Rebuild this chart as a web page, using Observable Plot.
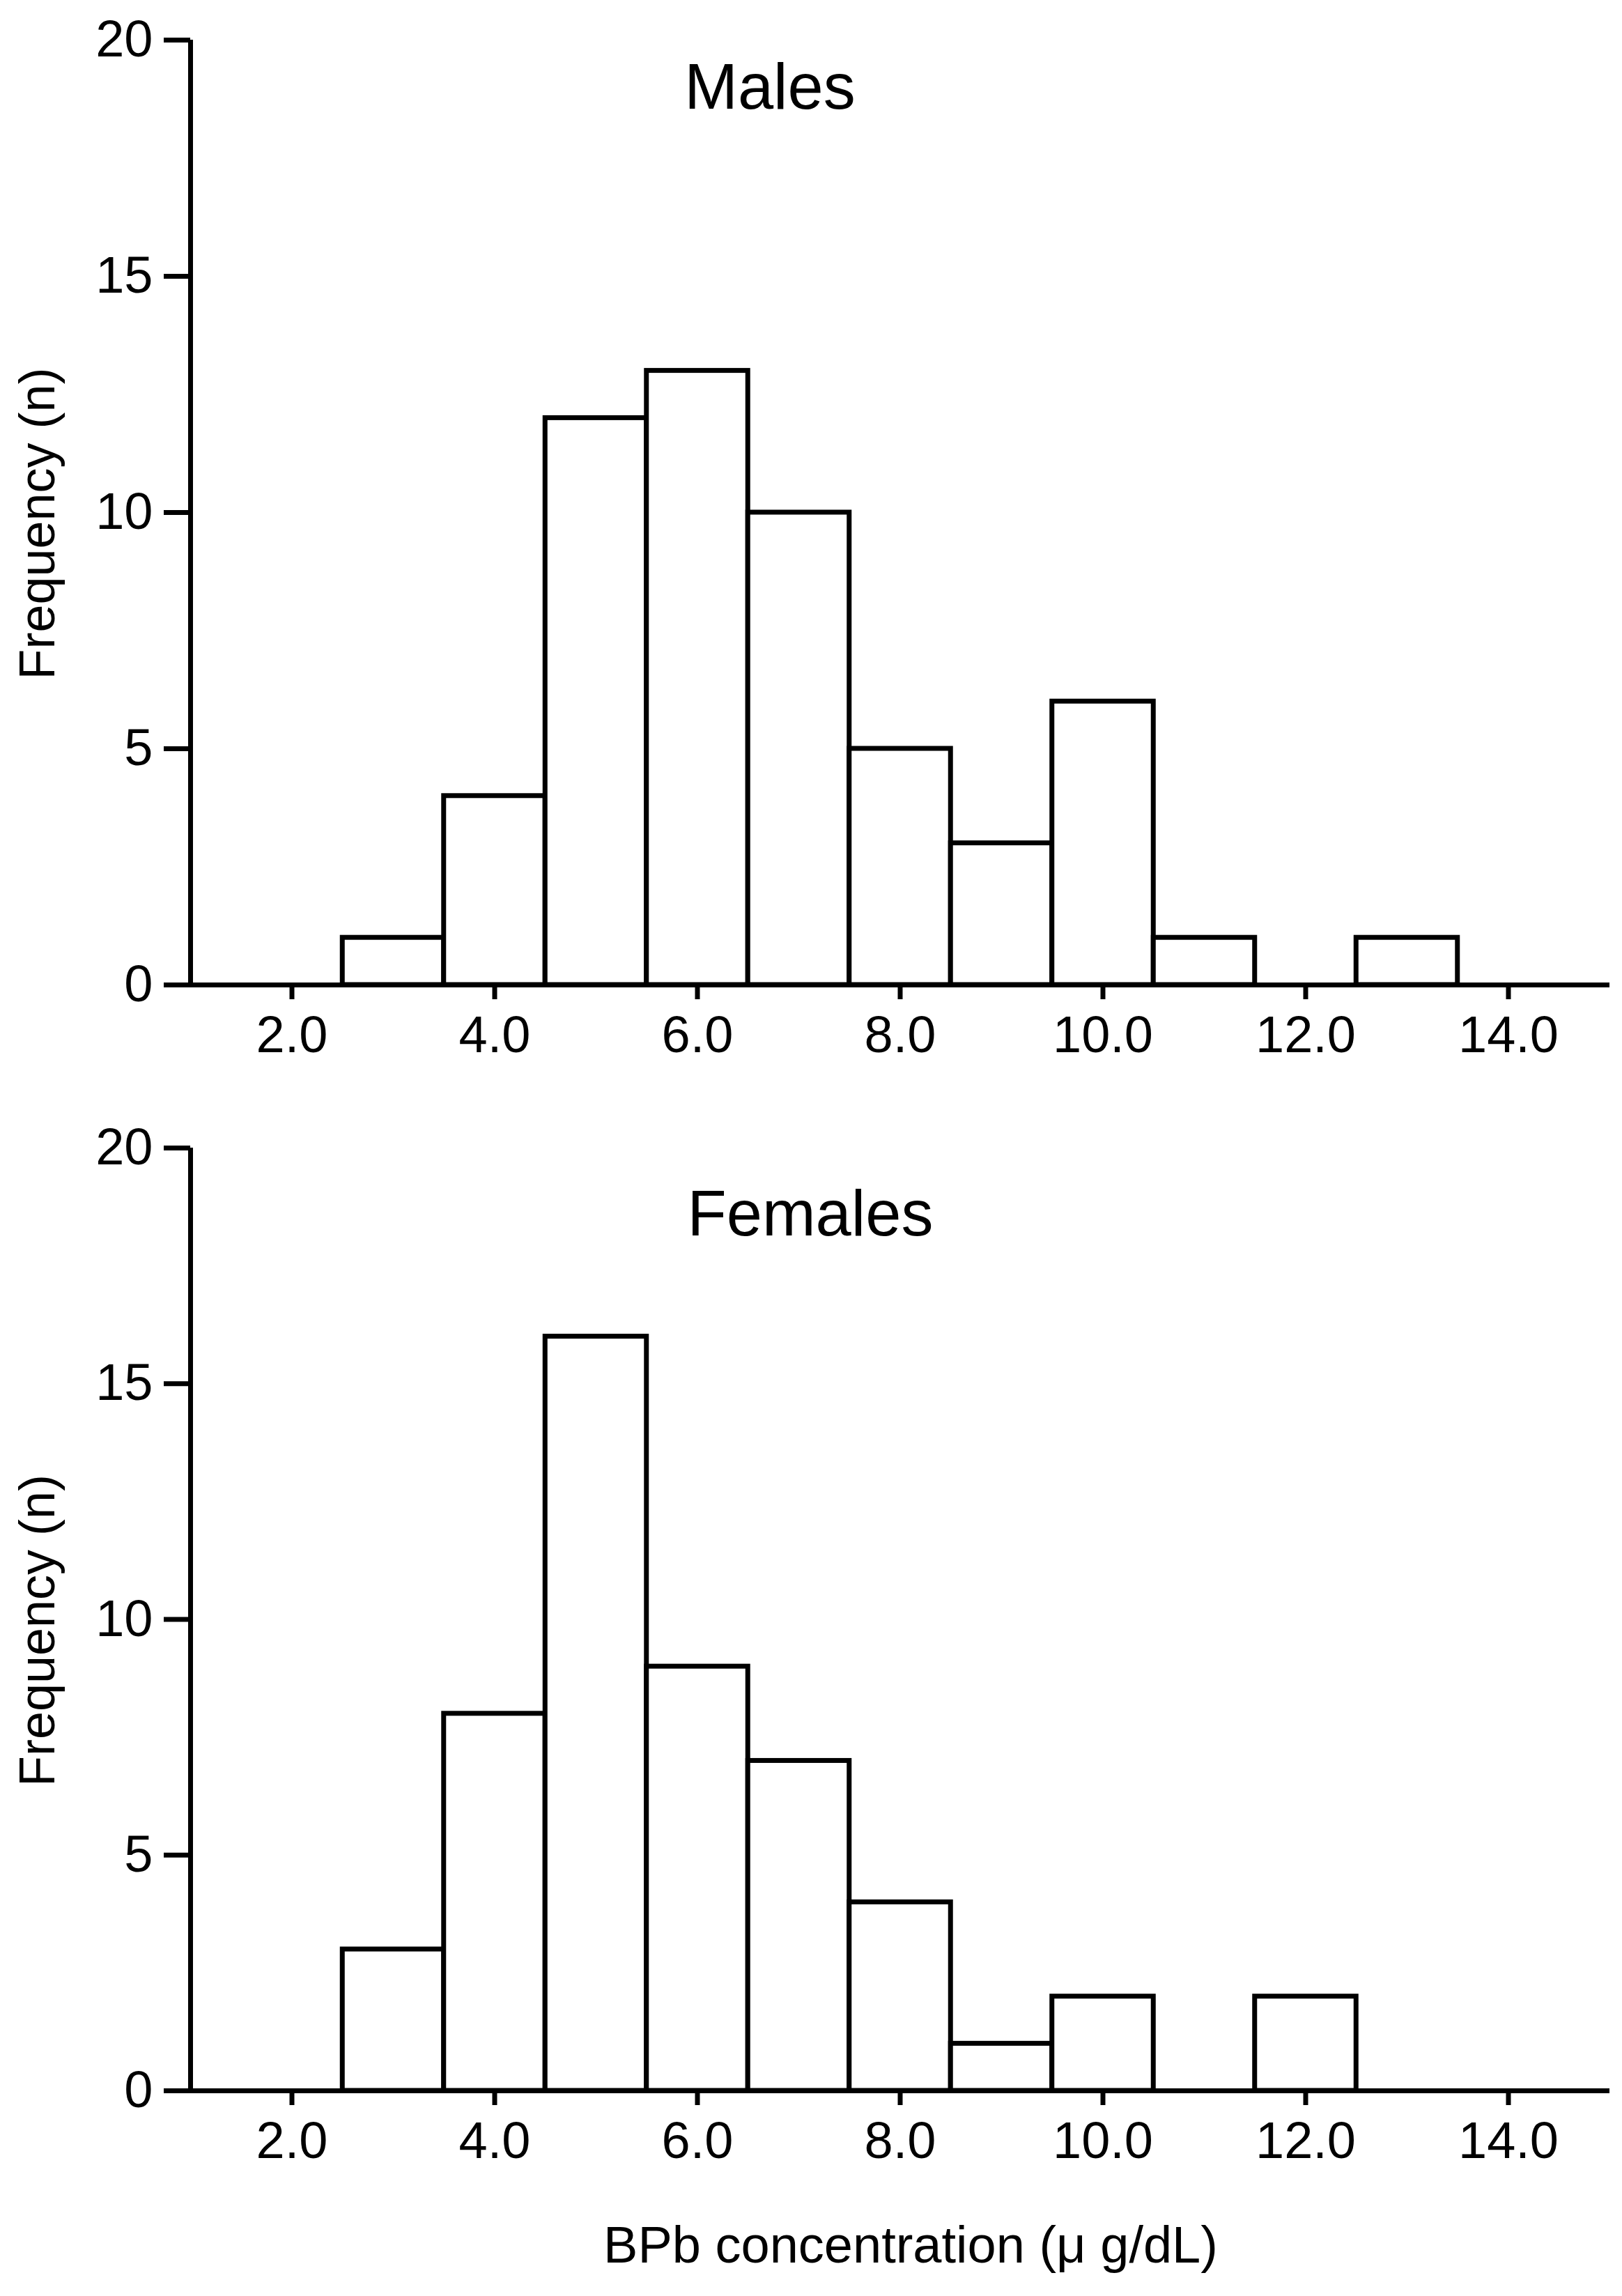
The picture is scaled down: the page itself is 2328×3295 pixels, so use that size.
<!DOCTYPE html>
<html>
<head>
<meta charset="utf-8">
<script src="https://cdn.jsdelivr.net/npm/d3@7"></script>
<script src="https://cdn.jsdelivr.net/npm/@observablehq/plot@0.6"></script>
<style>
  body { margin: 0; background: white; }
  #chart svg { display: block; }
</style>
</head>
<body>
<div id="chart"></div>
<script>
const binCenters = [3, 4, 5, 6, 7, 8, 9, 10, 11, 12, 13]
const males = [1, 4, 12, 13, 10, 5, 3, 6, 1, 0, 1]
const females = [3, 8, 16, 9, 7, 4, 1, 2, 0, 2, 0]

const xTicks = [2, 4, 6, 8, 10, 12, 14]
const yTicks = [0, 5, 10, 15, 20]

const yLabel = 'Frequency (n)'
const xLabel = 'BPb concentration (μ g/dL)'

const W = 2328
const lw = 7
const font = 'Liberation Sans, Arial, sans-serif'

function panel(counts, title, o) {
  let bins = binCenters.map((c, i) => ({ x1: c - 0.5, x2: c + 0.5, n: counts[i] }))
    .filter(d => d.n > 0)

  let marks = [
    Plot.rect(bins, { x1: 'x1', x2: 'x2', y1: 0, y2: 'n', fill: 'white', stroke: 'black', strokeWidth: lw }),
    Plot.ruleX([1], { stroke: 'black', strokeWidth: lw }),
    Plot.ruleY([0], { stroke: 'black', strokeWidth: lw }),
    Plot.axisY(yTicks, { tickSize: 38, tickPadding: 16, fontSize: 74, strokeWidth: lw, label: null, tickFormat: d3.format('d') }),
    Plot.axisX(xTicks, { tickSize: 21, tickPadding: 23, fontSize: 74, strokeWidth: lw, label: null, tickFormat: d3.format('.1f') }),
    Plot.text([title], { frameAnchor: 'top', textAnchor: 'middle', lineAnchor: 'middle', dx: o.titleDx, dy: o.titleDy, fontSize: 92, fill: 'black' }),
    Plot.text([yLabel], { frameAnchor: 'left', textAnchor: 'middle', lineAnchor: 'middle', rotate: -90, dx: -219, dy: 16, fontSize: 72, fill: 'black' }),
  ]
  if (o.xTitle) {
    marks.push(Plot.text([xLabel], { frameAnchor: 'bottom', textAnchor: 'middle', lineAnchor: 'middle', dx: 15, dy: 223, fontSize: 74, fill: 'black' }))
  }

  return Plot.plot({
    width: W,
    height: o.height,
    marginLeft: 273,
    marginRight: 18,
    marginTop: 57,
    marginBottom: o.marginBottom,
    style: { fontFamily: font, color: 'black', background: 'white', overflow: 'visible' },
    x: { domain: [1, 15] },
    y: { domain: [0, 20] },
    marks: marks
  })
}

let malesChart = panel(males, 'Males', { height: 1590, marginBottom: 177, titleDx: -187, titleDy: 69 })
let femalesChart = panel(females, 'Females', { height: 1705, marginBottom: 295, titleDx: -129, titleDy: 96, xTitle: true })

d3.select('#chart').append(() => malesChart)
d3.select('#chart').append(() => femalesChart)
</script>
</body>
</html>
